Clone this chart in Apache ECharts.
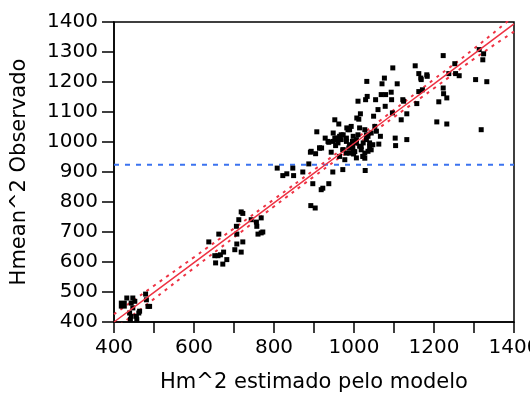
<!DOCTYPE html>
<html><head><meta charset="utf-8">
<script src="https://cdn.jsdelivr.net/npm/echarts@6/dist/echarts.min.js"></script>
<style>html,body{margin:0;padding:0;background:#fff}#c{width:530px;height:398px}</style>
</head><body><div id="c"></div>
<script>
// Observed vs. estimated points [x, y]
var pointsLow = [[422,458],[432,480],[447,480],[443,463],[452,469],[447,447],[439,430],[443,419],[456,419],[462,430],[464,436],[441,408],[457,408],[479,493],[481,474],[485,452],[489,452]];
var pointsMid = [[637,667],[662,693],[652,621],[660,621],[666,624],[674,633],[654,597],[672,593],[682,608],[702,641],[707,660],[718,633],[722,667],[707,693],[706,719],[712,741],[718,767],[722,762],[743,741],[756,733],[757,719],[768,747],[760,693],[768,697],[772,700]];
var pointsHigh = [[808,913],[822,888],[832,894],[847,913],[849,888],[872,900],[887,927],[891,966],[904,961],[897,861],[918,841],[922,846],[937,861],[947,900],[892,788],[903,780],[907,1034],[914,980],[919,980],[928,1013],[937,999],[943,966],[952,1074],[962,1060],[952,1013],[957,1008],[954,988],[964,1019],[968,1024],[972,974],[972,908],[977,941],[981,1013],[982,1047],[985,1041],[987,980],[989,963],[993,1052],[996,1002],[997,985],[999,960],[1002,968],[1006,1008],[1007,1080],[1010,1136],[1012,1076],[1014,1047],[1016,1094],[1018,985],[1022,952],[1027,946],[1028,905],[1029,1141],[1032,1202],[1033,1152],[1031,1008],[1035,1019],[1039,985],[1043,974],[1047,991],[1049,1086],[1052,1052],[1054,1141],[1056,1036],[1060,1108],[1062,993],[1066,1019],[1068,1158],[1070,1194],[1076,1213],[1078,1119],[1079,1158],[1093,1166],[1094,1141],[1097,1247],[1096,1097],[1103,1013],[1104,988],[1108,1194],[1118,1074],[1122,1141],[1124,1136],[1132,1094],[1132,1008],[1153,1254],[1157,1128],[1162,1228],[1168,1208],[1167,1213],[1162,1168],[1171,1174],[1182,1224],[1183,1219],[1207,1067],[1212,1134],[1223,1288],[1223,1180],[1224,1161],[1232,1147],[1232,1060],[1237,1228],[1252,1261],[1254,1228],[1263,1221],[1304,1208],[1313,1308],[1324,1294],[1322,1274],[1318,1041],[1332,1201],
[948,1030],[956,1013],[973,1024],[989,1041],[998,1019],[1010,1024],[1027,1041],[1031,1024],[1043,1030],[935,1002],[948,1002],[960,997],[968,1008],[981,1002],[989,991],[1006,997],[1014,986],[1023,997],[1039,997],[973,974],[981,963],[998,969],[1018,974],[1027,963],[1035,969],[964,952],[1006,947],[1023,952],[914,980],[893,969]];
var bigPoints = [[422,458]];
// Fit line and confidence band
var lineX = [400,500,600,700,800,900,1000,1100,1200,1300,1400];
var fitY = [400,499,598,697,797,896,995,1095,1194,1294,1394];
var upperY = [426,521,616,712,809,907,1006,1107,1209,1311,1420];
var lowerY = [374,477,580,682,785,885,984,1083,1179,1277,1368];
var meanY = 924;
var xRange = [400,1400];
var yRange = [400,1400];

function pairs(xs, ys){ return xs.map(function(x,i){return [x, ys[i]];}); }
var allPoints = pointsLow.concat(pointsMid, pointsHigh);
var red = '#ee3344';
var chart = echarts.init(document.getElementById('c'), null, {renderer:'canvas'});
var font = 'DejaVu Sans, sans-serif';
chart.setOption({
  animation:false,
  backgroundColor:'#fff',
  grid:{left:114,right:16,top:22,bottom:76,show:true,borderColor:'#000',borderWidth:1.5,
    containLabel:false,outerBoundsMode:'none'},
  xAxis:{type:'value',min:xRange[0],max:xRange[1],interval:100,
    name:'Hm^2 estimado pelo modelo',nameLocation:'middle',nameGap:50,
    nameTextStyle:{color:'#000',fontSize:21,fontFamily:font},
    axisLine:{lineStyle:{color:'#000',width:1.5}},
    axisTick:{show:true,inside:false,length:11,lineStyle:{color:'#000',width:1.5}},
    splitLine:{show:false},
    axisLabel:{color:'#000',fontSize:20,fontFamily:font,margin:16,showMaxLabel:true,hideOverlap:false,
      formatter:function(v){return v%200===0?String(v):'';}}},
  yAxis:{type:'value',min:yRange[0],max:yRange[1],interval:100,
    name:'Hmean^2 Observado',nameLocation:'middle',nameGap:84,
    nameTextStyle:{color:'#000',fontSize:21,fontFamily:font},
    axisLine:{lineStyle:{color:'#000',width:1.5}},
    axisTick:{show:true,inside:false,length:12,lineStyle:{color:'#000',width:1.5}},
    splitLine:{show:false},
    axisLabel:{color:'#000',fontSize:20,fontFamily:font,margin:16,hideOverlap:false,
      formatter:function(v){return String(v);}}},
  series:[
    {type:'line',data:[[xRange[0],meanY],[xRange[1],meanY]],symbol:'none',silent:true,
      lineStyle:{color:'#3b73f0',width:2,type:[5,6]},z:1},
    {type:'line',data:pairs(lineX,upperY),symbol:'none',smooth:true,clip:true,
      lineStyle:{color:red,width:2,type:[3,5]},z:2},
    {type:'line',data:pairs(lineX,lowerY),symbol:'none',smooth:true,clip:true,
      lineStyle:{color:red,width:2,type:[3,5]},z:2},
    {type:'scatter',data:allPoints,symbol:'rect',symbolSize:5,itemStyle:{color:'#000',opacity:1},z:3},
    {type:'scatter',data:bigPoints,symbol:'rect',symbolSize:8,itemStyle:{color:'#000',opacity:1},z:3},
    {type:'line',data:pairs(lineX,fitY),symbol:'none',clip:true,
      lineStyle:{color:red,width:1.5},z:4}
  ]
});
</script></body></html>
